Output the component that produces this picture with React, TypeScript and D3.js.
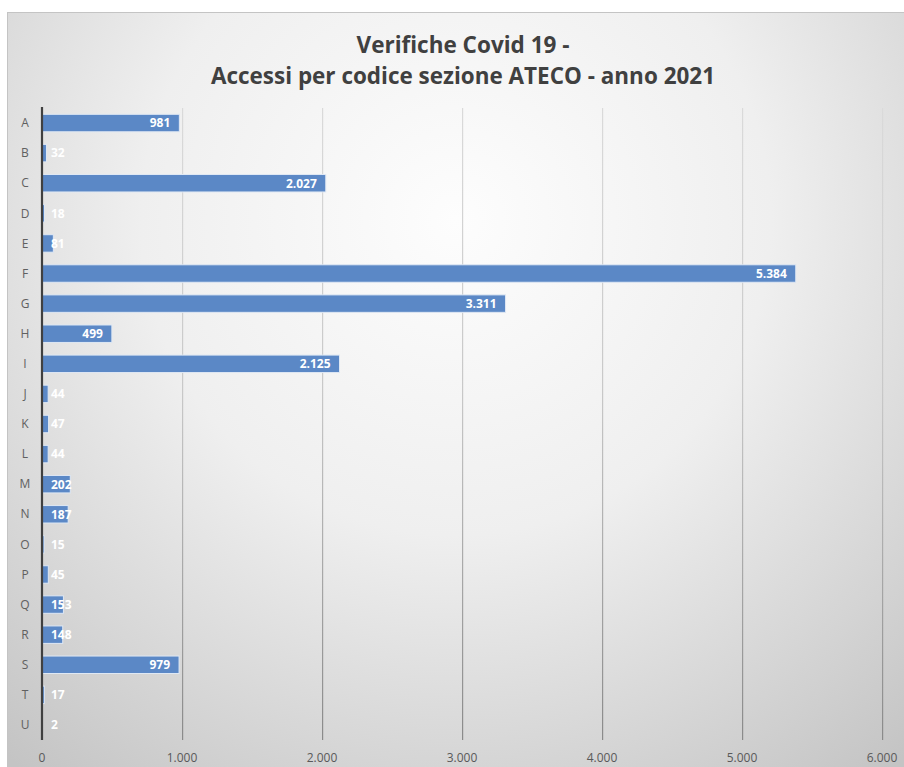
import React, { useEffect, useRef } from "react";
import * as d3 from "d3";

const categories = ["A","B","C","D","E","F","G","H","I","J","K","L","M","N","O","P","Q","R","S","T","U"];
const values = [981,32,2027,18,81,5384,3311,499,2125,44,47,44,202,187,15,45,153,148,979,17,2];
const xTicks = [0,1000,2000,3000,4000,5000,6000];
const titleLines = ["Verifiche Covid 19 -", "Accessi per codice sezione ATECO - anno 2021"];

const W = 904, H = 767;

export default function App() {
  const ref = useRef<SVGSVGElement>(null);
  useEffect(() => {
    const svg = d3.select(ref.current);
    svg.selectAll("*").remove();
    const defs = svg.append("defs");
    const grad = defs.append("radialGradient").attr("id", "bg").attr("gradientUnits", "userSpaceOnUse")
      .attr("cx", 456).attr("cy", 220).attr("r", 700);
    grad.append("stop").attr("offset", "0%").attr("stop-color", "#fdfdfd");
    grad.append("stop").attr("offset", "45%").attr("stop-color", "#efefef");
    grad.append("stop").attr("offset", "100%").attr("stop-color", "#c4c4c4");
    const gg = defs.append("linearGradient").attr("id", "grid").attr("gradientUnits", "userSpaceOnUse")
      .attr("x1", 0).attr("x2", 0).attr("y1", 108).attr("y2", 740);
    gg.append("stop").attr("offset", "0%").attr("stop-color", "#dadada");
    gg.append("stop").attr("offset", "45%").attr("stop-color", "#c8c8c8");
    gg.append("stop").attr("offset", "100%").attr("stop-color", "#8a8a8a");

    svg.append("rect").attr("x", 7.5).attr("y", 12.5).attr("width", W).attr("height", H)
      .attr("fill", "url(#bg)").attr("stroke", "#c4c4c4");

    const x = d3.scaleLinear().domain([0, 6000]).range([42, 882]);
    const y = d3.scaleBand().domain(categories).range([108, 740]).paddingInner(0.42).paddingOuter(0.21);

    const fmt = (v: number) => d3.format(",")(v).replace(/,/g, ".");

    // gridlines
    svg.append("g").selectAll("rect").data(xTicks.slice(1)).join("rect")
      .attr("x", d => x(d)).attr("width", 1.2)
      .attr("y", 108).attr("height", 632).attr("fill", "url(#grid)");

    // tick labels
    svg.append("g").selectAll("text").data(xTicks).join("text")
      .attr("x", d => x(d)).attr("y", 762).attr("text-anchor", "middle")
      .attr("font-family", "Open Sans, sans-serif").attr("font-size", 12).attr("fill", "#595959")
      .text(d => fmt(d));

    // bars
    svg.append("g").selectAll("rect").data(values).join("rect")
      .attr("x", x(0)).attr("y", (d, i) => y(categories[i])!)
      .attr("width", d => x(d) - x(0)).attr("height", y.bandwidth())
      .attr("fill", "#5b88c6").attr("stroke", "#dfe8f4").attr("stroke-width", 1);

    // axis line
    svg.append("line").attr("x1", 42).attr("x2", 42).attr("y1", 107).attr("y2", 740)
      .attr("stroke", "#404040").attr("stroke-width", 2.2);

    // category labels
    svg.append("g").selectAll("text").data(categories).join("text")
      .attr("x", 25).attr("y", d => y(d)! + y.bandwidth() / 2).attr("dy", "0.35em")
      .attr("text-anchor", "middle").attr("font-family", "Open Sans, sans-serif")
      .attr("font-size", 12).attr("fill", "#606060").text(d => d);

    // value labels
    const lbl = svg.append("g").selectAll("text").data(values).join("text")
      .attr("y", (d, i) => y(categories[i])! + y.bandwidth() / 2).attr("dy", "0.36em")
      .attr("font-family", "Open Sans, sans-serif").attr("font-weight", "bold")
      .attr("font-size", 12).attr("fill", "#ffffff").text(d => fmt(d));
    lbl.each(function (d) {
      const t = this as SVGTextElement;
      const w = t.getComputedTextLength();
      const xs = Math.max(x(d) - 9 - w, 51);
      d3.select(t).attr("x", xs);
    });

    // title
    svg.append("g").selectAll("text").data(titleLines).join("text")
      .attr("x", 463).attr("y", (d, i) => 53 + i * 31).attr("text-anchor", "middle")
      .attr("font-family", "Open Sans, sans-serif").attr("font-weight", "bold")
      .attr("font-size", 24).attr("fill", "#404040")
      .attr("textLength", (d, i) => (i === 0 ? 213 : 504)).attr("lengthAdjust", "spacingAndGlyphs")
      .text(d => d);
  }, []);
  return (
    <svg ref={ref} width={W} height={H} style={{ position: "absolute", left: 0, top: 0 }} />
  );
}
